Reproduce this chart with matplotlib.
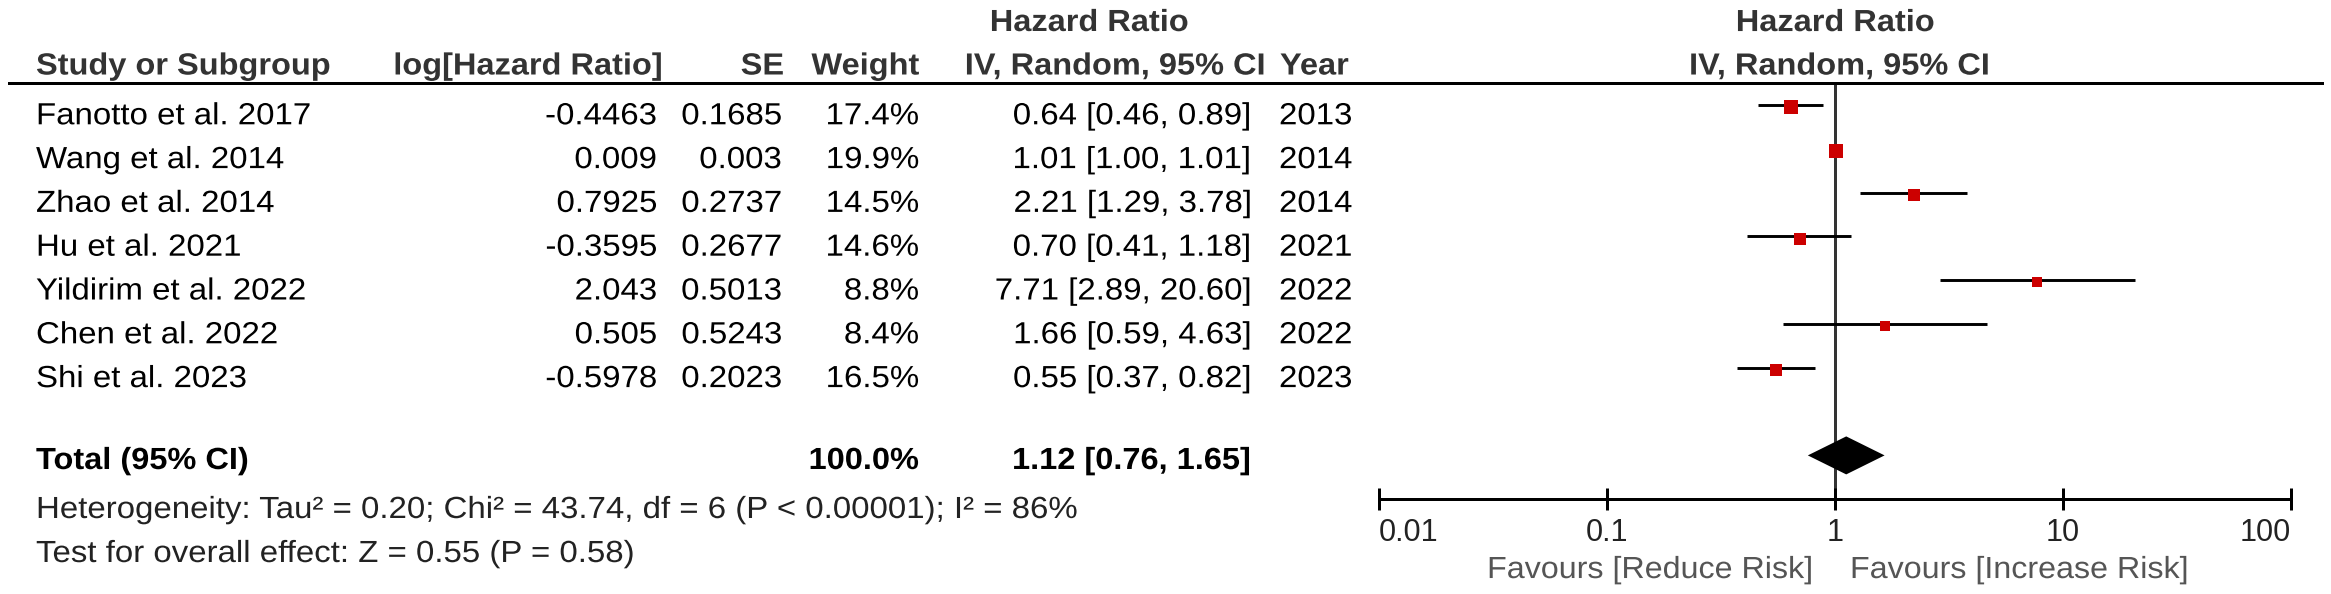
#!/usr/bin/env python

import numpy as np
import matplotlib
matplotlib.use("Agg")
import matplotlib.pyplot as plt
from matplotlib.lines import Line2D
from matplotlib.patheffects import AbstractPathEffect
from matplotlib.transforms import Affine2D

plt.rcParams['font.family'] = ['Liberation Sans', 'DejaVu Sans']

# study data
studies = ["Fanotto et al. 2017", "Wang et al. 2014", "Zhao et al. 2014", "Hu et al. 2021",
           "Yildirim et al. 2022", "Chen et al. 2022", "Shi et al. 2023"]
log_hr = [-0.4463, 0.009, 0.7925, -0.3595, 2.043, 0.505, -0.5978]
se = [0.1685, 0.003, 0.2737, 0.2677, 0.5013, 0.5243, 0.2023]
weights = [17.4, 19.9, 14.5, 14.6, 8.8, 8.4, 16.5]
hr = [0.64, 1.01, 2.21, 0.70, 7.71, 1.66, 0.55]
ci_low = [0.46, 1.00, 1.29, 0.41, 2.89, 0.59, 0.37]
ci_high = [0.89, 1.01, 3.78, 1.18, 20.60, 4.63, 0.82]
years = [2013, 2014, 2014, 2021, 2022, 2022, 2023]

# pooled result
total_weight = 100.0
total_hr = 1.12
total_low = 0.76
total_high = 1.65
heterogeneity = "Heterogeneity: Tau\u00b2 = 0.20; Chi\u00b2 = 43.74, df = 6 (P < 0.00001); I\u00b2 = 86%"
overall = "Test for overall effect: Z = 0.55 (P = 0.58)"

ticks = [0.01, 0.1, 1, 10, 100]
tick_labels = ["0.01", "0.1", "1", "10", "100"]
favours_left = "Favours [Reduce Risk]"
favours_right = "Favours [Increase Risk]"

W, H = 2331, 594
FS = 22
HDR = '#333333'
RED = '#cc0000'

# layout in pixels (from top)
LINE0 = 105.0      # y of first study CI line
ROWH = 43.8        # row pitch
BASE_OFF = 19.3    # text baseline below CI line
RULE_Y = 83
AXIS_Y = 499
X_LO, X_HI = 1379, 2291


class Stretch(AbstractPathEffect):
    """Widen glyphs horizontally, keeping the aligned edge in place."""

    def __init__(self, sx, ha='left'):
        super().__init__()
        self.sx = sx
        self.ha = ha

    def draw_path(self, renderer, gc, tpath, affine, rgbFace=None):
        v = tpath.vertices
        if len(v) == 0 or self.ha == 'left':
            px = 0.0
        elif self.ha == 'right':
            px = v[:, 0].max()
        else:
            px = (v[:, 0].min() + v[:, 0].max()) / 2
        t = Affine2D().translate(-px, 0).scale(self.sx, 1).translate(px, 0) + affine
        renderer.draw_path(gc, tpath, t, rgbFace)


def put(x, y, s, sx=1.08, **kw):
    kw.setdefault('fontsize', FS)
    kw.setdefault('va', 'baseline')
    ha = kw.get('ha', 'left')
    return fig.text(x / W, 1 - y / H, s, path_effects=[Stretch(sx, ha)], **kw)


fig = plt.figure(figsize=(W / 100, H / 100), dpi=100)

# forest plot axes
ax = fig.add_axes([X_LO / W, 1 - AXIS_Y / H, (X_HI - X_LO) / W, (AXIS_Y - RULE_Y) / H])
ax.set_xscale('log')
ax.set_xlim(0.01, 100)
ax.set_ylim((AXIS_Y - LINE0) / ROWH, (RULE_Y - LINE0) / ROWH)

n = len(studies)
y = np.arange(n)
ax.axvline(1, color='#333333', lw=2.16, zorder=1)
ax.hlines(y, ci_low, ci_high, color='black', lw=2.1, zorder=2)
for yi, h, w in zip(y, hr, weights):
    ax.plot(h, yi + 0.05, marker='s', ms=2.25 * np.sqrt(w), color=RED, mew=0,
            linestyle='none', zorder=3)

ty = n + 1
dh = 19 / ROWH
ax.fill([total_low, total_hr, total_high, total_hr], [ty, ty - dh, ty, ty + dh],
        color='black', lw=0, zorder=4)

for side in ['left', 'right', 'top']:
    ax.spines[side].set_visible(False)
ax.spines['bottom'].set_linewidth(2.16)
ax.set_yticks([])
ax.set_xticks(ticks, tick_labels)
ax.xaxis.set_minor_locator(matplotlib.ticker.NullLocator())
ax.tick_params(axis='x', direction='inout', length=15.8, width=2.16, pad=5.8,
               labelsize=FS, labelcolor='#222222', color='black')
labs = ax.get_xticklabels()
labs[0].set_ha('left')
labs[-1].set_ha('right')
ax.patch.set_alpha(0)

# right-hand headers and favours labels, tied to x = 1
ax.annotate("Hazard Ratio", xy=(1, 1), xycoords=('data', 'axes fraction'),
            xytext=(0, 37.4), textcoords='offset points', ha='center', va='baseline',
            fontsize=FS, weight='bold', color=HDR, annotation_clip=False,
            path_effects=[Stretch(1.065, 'center')])
ax.annotate("IV, Random, 95% CI", xy=(1, 1), xycoords=('data', 'axes fraction'),
            xytext=(3, 6.1), textcoords='offset points', ha='center', va='baseline',
            fontsize=FS, weight='bold', color=HDR, annotation_clip=False,
            path_effects=[Stretch(1.065, 'center')])
ax.annotate(favours_left, xy=(1, 0), xycoords=('data', 'axes fraction'),
            xytext=(-16.6, -56.9), textcoords='offset points', ha='right', va='baseline',
            fontsize=FS, color='#555555', annotation_clip=False,
            path_effects=[Stretch(1.055, 'right')])
ax.annotate(favours_right, xy=(1, 0), xycoords=('data', 'axes fraction'),
            xytext=(10.8, -56.9), textcoords='offset points', ha='left', va='baseline',
            fontsize=FS, color='#555555', annotation_clip=False,
            path_effects=[Stretch(1.055, 'left')])

# header rule
fig.add_artist(Line2D([9 / W, 2322 / W], [1 - RULE_Y / H] * 2, lw=2.16, color='black',
                      transform=fig.transFigure))

# table headers
hb = dict(weight='bold', color=HDR, sx=1.065)
put(1089, 31, "Hazard Ratio", ha='center', **hb)
put(36, 74.5, "Study or Subgroup", ha='left', **hb)
put(662, 74.5, "log[Hazard Ratio]", ha='right', **hb)
put(784, 74.5, "SE", ha='right', **hb)
put(919, 74.5, "Weight", ha='right', **hb)
put(1265, 74.5, "IV, Random, 95% CI", ha='right', **hb)
put(1280, 74.5, "Year", ha='left', **hb)

# table rows
for i in range(n):
    yb = LINE0 + BASE_OFF + ROWH * i
    put(36, yb, studies[i], ha='left')
    put(657, yb, str(log_hr[i]), ha='right')
    put(782, yb, str(se[i]), ha='right')
    put(919, yb, f"{weights[i]:.1f}%", ha='right')
    put(1251, yb, f"{hr[i]:.2f} [{ci_low[i]:.2f}, {ci_high[i]:.2f}]", ha='right')
    put(1279, yb, str(years[i]), ha='left')

put(36, 469, "Total (95% CI)", ha='left', weight='bold', sx=1.065)
put(919, 469, f"{total_weight:.1f}%", ha='right', weight='bold', sx=1.065)
put(1251, 469, f"{total_hr:.2f} [{total_low:.2f}, {total_high:.2f}]", ha='right',
    weight='bold', sx=1.065)
put(36, 518, heterogeneity, ha='left', color='#222222')
put(36, 562, overall, ha='left', color='#222222')

fig.savefig("out.png", dpi=100)
